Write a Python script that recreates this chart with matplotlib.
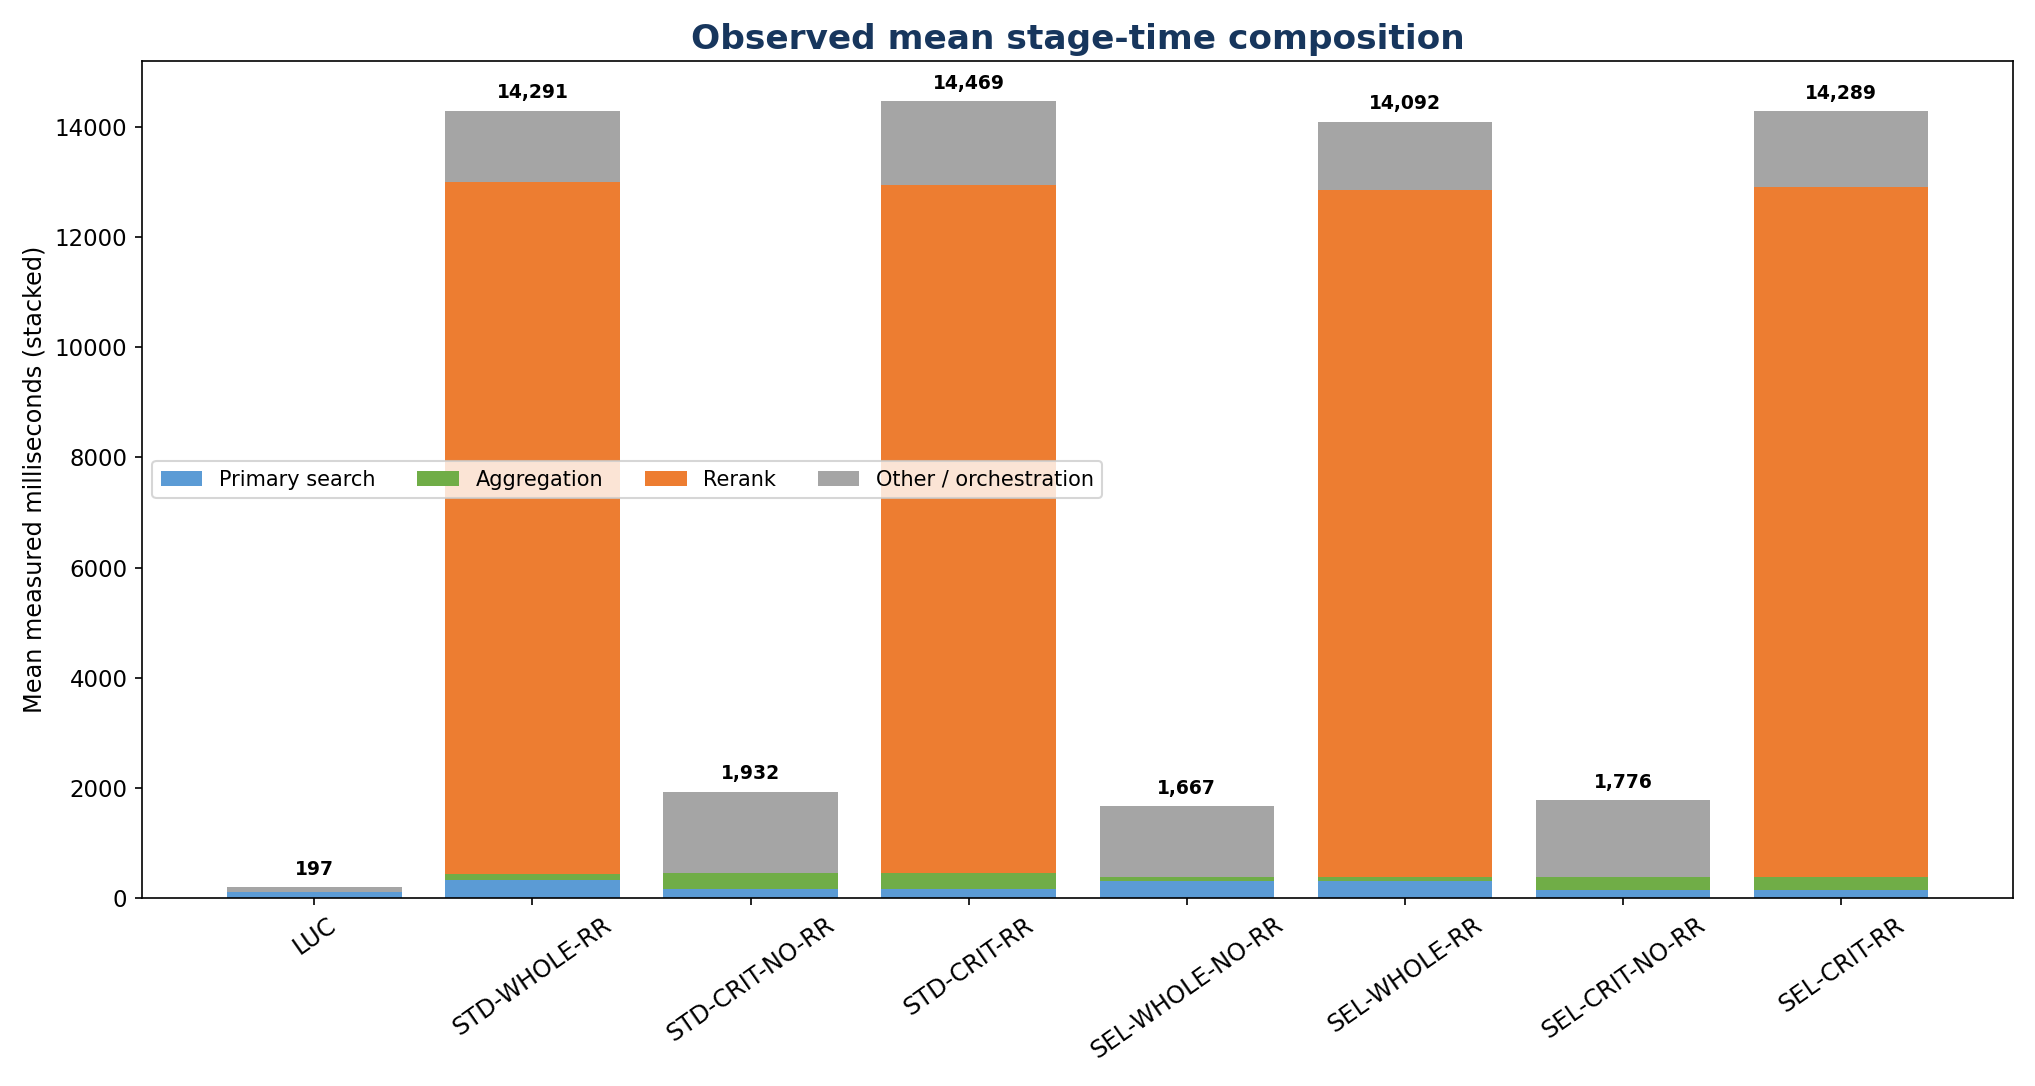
import numpy as np
import matplotlib
matplotlib.use("Agg")
from matplotlib import pyplot as plt

configs = ["LUC", "STD-WHOLE-RR", "STD-CRIT-NO-RR", "STD-CRIT-RR",
           "SEL-WHOLE-NO-RR", "SEL-WHOLE-RR", "SEL-CRIT-NO-RR", "SEL-CRIT-RR"]
primary = [115, 320, 163, 163, 313, 313, 145, 145]
aggregation = [5, 114, 289, 287, 73, 73, 241, 241]
rerank = [0, 12566, 0, 12499, 0, 12459, 0, 12514]
totals = [197, 14291, 1932, 14469, 1667, 14092, 1776, 14289]

# whatever is left over after the measured stages
other = [t - p - a - r for t, p, a, r in zip(totals, primary, aggregation, rerank)]

fig, ax = plt.subplots(figsize=(13.573, 7.24), dpi=150)
x = np.arange(len(configs))

bottom = np.zeros(len(configs))
series = [("Primary search", primary, "#5b9bd5"),
          ("Aggregation", aggregation, "#70ad47"),
          ("Rerank", rerank, "#ed7d31"),
          ("Other / orchestration", other, "#a5a5a5")]
for name, vals, col in series:
    ax.bar(x, vals, 0.8, bottom=bottom, color=col, label=name)
    bottom += np.array(vals)

for xi, t in zip(x, totals):
    ax.text(xi, t + 150, f"{t:,}", ha="center", va="bottom",
            fontsize=9, fontweight="bold")

ax.set_xticks(x)
ax.set_xticklabels(configs, rotation=35)
ax.tick_params(axis="y", labelsize=11)
ax.tick_params(axis="x", labelsize=11.5)
ax.set_ylabel("Mean measured milliseconds (stacked)", fontsize=11.5)
ax.set_title("Observed mean stage-time composition", fontsize=16.5,
             fontweight="bold", color="#17365d")
ax.legend(loc="center left", ncol=4, fontsize=10)

fig.tight_layout()
fig.savefig("out.png", dpi=150)
